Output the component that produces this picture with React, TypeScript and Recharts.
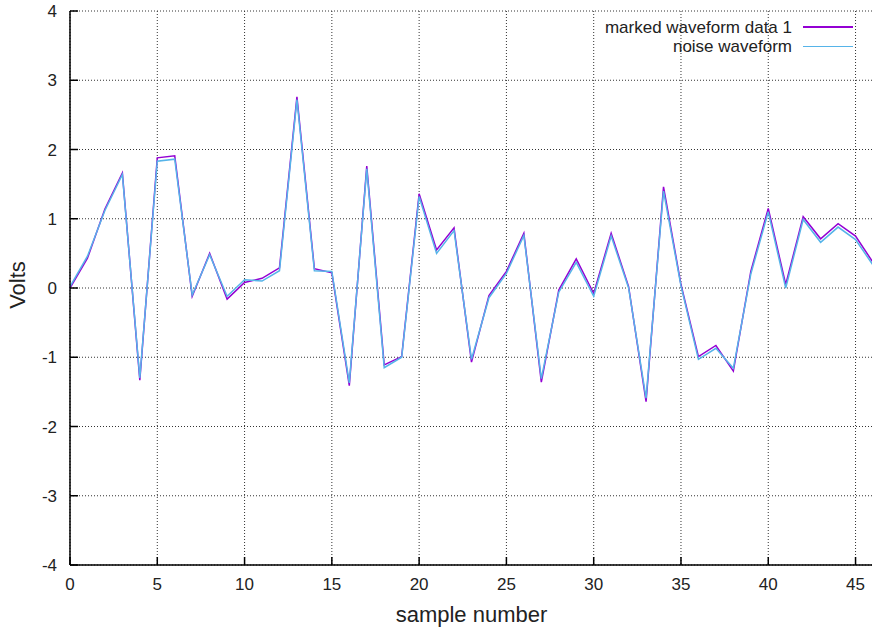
import { CartesianGrid, Legend, Line, LineChart, XAxis, YAxis } from "recharts";

const samples = [
  0, 1, 2, 3, 4, 5, 6, 7, 8, 9, 10, 11, 12, 13, 14, 15, 16, 17, 18, 19, 20, 21, 22,
  23, 24, 25, 26, 27, 28, 29, 30, 31, 32, 33, 34, 35, 36, 37, 38, 39, 40, 41, 42, 43,
  44, 45, 46,
];

const markedValues = [
  0.0, 0.43, 1.14, 1.66, -1.33, 1.88, 1.91, -0.12, 0.5, -0.16, 0.08, 0.14, 0.29, 2.76,
  0.28, 0.22, -1.41, 1.76, -1.11, -0.99, 1.36, 0.55, 0.87, -1.07, -0.11, 0.24, 0.79,
  -1.36, -0.03, 0.42, -0.08, 0.79, 0.02, -1.64, 1.46, 0.05, -0.99, -0.83, -1.2, 0.24,
  1.15, 0.05, 1.03, 0.71, 0.93, 0.75, 0.37,
];

const noiseValues = [
  0.02, 0.46, 1.12, 1.64, -1.3, 1.83, 1.86, -0.1, 0.48, -0.12, 0.12, 0.1, 0.25, 2.72,
  0.25, 0.24, -1.37, 1.72, -1.15, -1.0, 1.32, 0.5, 0.83, -1.03, -0.14, 0.21, 0.76,
  -1.31, -0.06, 0.37, -0.12, 0.75, 0.0, -1.59, 1.4, 0.03, -1.03, -0.87, -1.16, 0.2,
  1.1, 0.0, 0.99, 0.66, 0.88, 0.7, 0.33,
];

const xTicks = [0, 5, 10, 15, 20, 25, 30, 35, 40, 45];
const yTicks = [-4, -3, -2, -1, 0, 1, 2, 3, 4];

const series = [
  { key: "marked", name: "marked waveform data 1", color: "#9400d3" },
  { key: "noise", name: "noise waveform", color: "#56b4e9" },
];

const data = samples.map((x, i) => ({
  x,
  marked: markedValues[i],
  noise: noiseValues[i],
}));

const FONT = "'Liberation Sans', Arial, sans-serif";
const tickStyle = { fontSize: 17, fill: "#222", fontFamily: FONT };

// legend drawn as html, two right-aligned rows with the line sample after the text
const LegendBox = () => (
  <div style={{ position: "relative", width: 880, height: 0, fontFamily: FONT }}>
    {series.map((s, i) => (
      <div
        key={s.key}
        style={{
          position: "absolute",
          top: 17.5 + i * 19.4,
          right: 27,
          height: 19,
          lineHeight: "19px",
          display: "flex",
          alignItems: "center",
          fontSize: 17,
          color: "#222",
          whiteSpace: "nowrap",
        }}
      >
        <span>{s.name}</span>
        <span
          style={{
            display: "inline-block",
            width: 50,
            height: 1.5,
            marginLeft: 11,
            background: s.color,
          }}
        />
      </div>
    ))}
  </div>
);

const VoltsLabel = () => (
  <text
    x={17}
    y={285}
    transform="rotate(-90 17 285)"
    textAnchor="middle"
    dominantBaseline="central"
    fontSize={22}
    fill="#222"
    fontFamily={FONT}
  >
    Volts
  </text>
);

export default function App() {
  return (
    <div
      style={{
        position: "absolute",
        top: 0,
        left: 0,
        width: 872,
        height: 630,
        overflow: "hidden",
        background: "#fff",
      }}
    >
      <LineChart
        width={880}
        height={630}
        data={data}
        margin={{ top: 11, right: 7, left: 0, bottom: 0 }}
        style={{ fontFamily: FONT }}
      >
        <CartesianGrid stroke="#333" strokeDasharray="1 2" />
        <XAxis
          dataKey="x"
          type="number"
          domain={[0, 46]}
          ticks={xTicks}
          height={65}
          tickSize={-8}
          tickMargin={21}
          tick={tickStyle}
          stroke="#000"
          strokeWidth={1.5}
          label={{
            value: "sample number",
            position: "insideBottom",
            offset: 8,
            fontSize: 22,
            fill: "#222",
            fontFamily: FONT,
          }}
        />
        <XAxis
          xAxisId="top"
          orientation="top"
          dataKey="x"
          type="number"
          domain={[0, 46]}
          ticks={xTicks}
          height={0}
          tickSize={-8}
          tick={false}
          stroke="#000"
          strokeWidth={1.5}
        />
        <YAxis
          type="number"
          domain={[-4, 4]}
          ticks={yTicks}
          width={70}
          tickSize={-8}
          tickMargin={21}
          tick={tickStyle}
          stroke="#000"
          strokeWidth={1.5}
          label={<VoltsLabel />}
        />
        <YAxis
          yAxisId="right"
          orientation="right"
          type="number"
          domain={[-4, 4]}
          ticks={yTicks}
          width={0}
          tickSize={-8}
          tick={false}
          stroke="#000"
          strokeWidth={1.5}
        />
        <Legend
          layout="horizontal"
          verticalAlign="middle"
          wrapperStyle={{ top: 0, left: 0, width: 880, height: 0 }}
          content={() => <LegendBox />}
        />
        {series.map((s) => (
          <Line
            key={s.key}
            dataKey={s.key}
            name={s.name}
            type="linear"
            stroke={s.color}
            strokeWidth={1.5}
            dot={false}
            activeDot={false}
            isAnimationActive={false}
          />
        ))}
      </LineChart>
    </div>
  );
}
